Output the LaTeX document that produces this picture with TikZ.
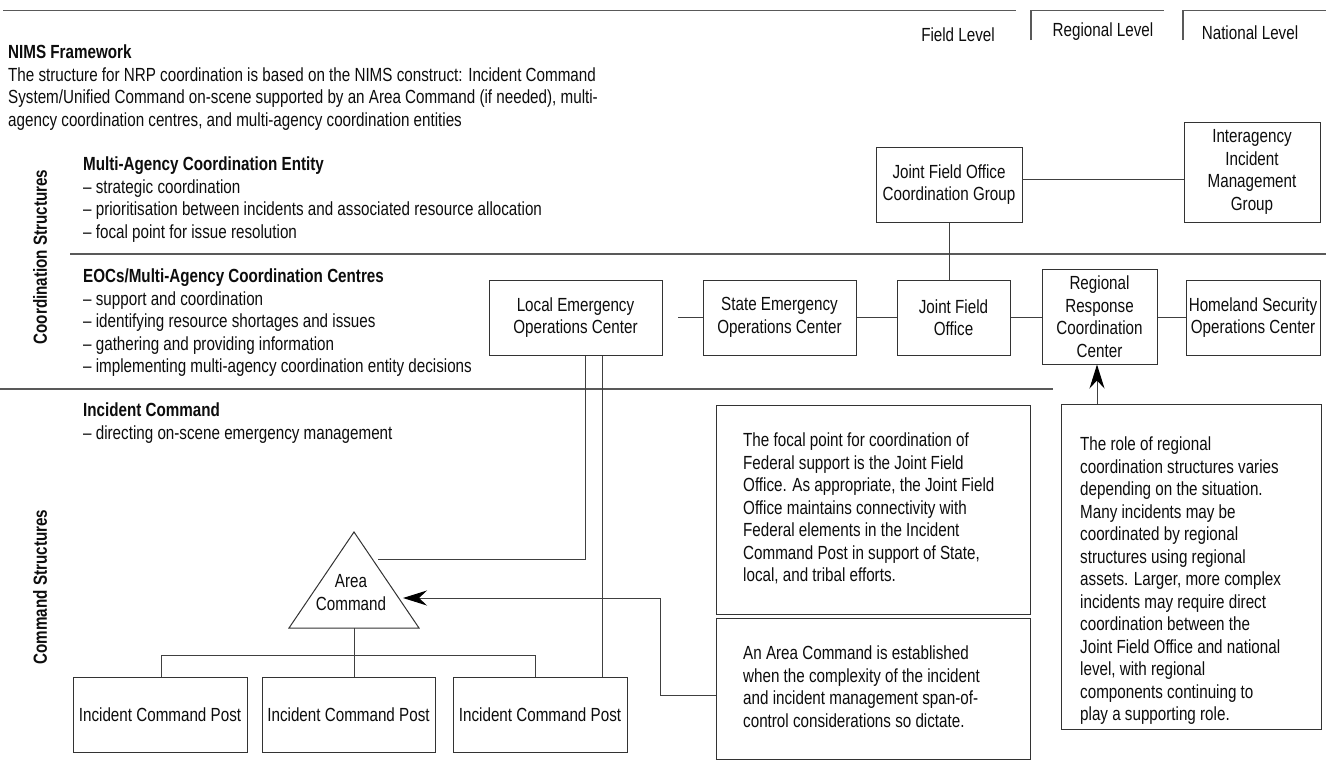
\documentclass[tikz,border=0pt]{standalone}
\usepackage{fontspec}
\setmainfont{Liberation Sans}[FakeStretch=0.80]
\usetikzlibrary{arrows.meta}
\newcommand\fs{\fontsize{19}{22.5}\selectfont}
\begin{document}
\begin{tikzpicture}[x=1pt,y=-1pt,
  box/.style={draw=black!80, line width=1pt, inner sep=0pt, align=center, font=\fs, text=black!95},
  conn/.style={draw=black!75, line width=1pt},
  rule/.style={draw=black!65, line width=1.1pt},
  txt/.style={inner sep=0pt, anchor=north west, align=left, font=\fs, text=black!95},
  lbl/.style={inner sep=0pt, font=\fs, text=black!95},
  side/.style={inner sep=0pt, font=\fs\bfseries, text=black!95, rotate=90},
  arr/.style={-{Stealth[length=24pt,width=15pt,inset=8pt,color=black,fill=black]}}
]
\fill[white] (0,0) rectangle (1326,774);
\useasboundingbox (0,0) rectangle (1326,774);

% header rules and level tabs
\coordinate (h0) at (3,10.7);
\coordinate (h1) at (1016,10.7);
\draw[rule] (h0) -- (h1);
\coordinate (rg0) at (1031,40);
\coordinate (rg1) at (1164,10.7);
\draw[rule] (rg0) |- (rg1);
\coordinate (nt0) at (1183,40);
\coordinate (nt1) at (1326,10.7);
\draw[rule] (nt0) |- (nt1);
\node[lbl] (fl) at (958,35) {Field Level};
\node[lbl] (rl) at (1103,32) {Regional Level};
\node[lbl] (nl) at (1250,33) {National Level};

% left text blocks
\node[txt] (nims) at (8,45) {\textbf{NIMS Framework}\\
The structure for NRP coordination is based on the NIMS construct: Incident Command\\
System/Unified Command on-scene supported by an Area Command (if needed), multi-\\
agency coordination centres, and multi-agency coordination entities};

\node[txt] (mace) at (83,157) {\textbf{Multi-Agency Coordination Entity}\\
– strategic coordination\\
– prioritisation between incidents and associated resource allocation\\
– focal point for issue resolution};

\coordinate (s1a) at (70,254);
\coordinate (s1b) at (1326,254);
\draw[rule] (s1a) -- (s1b);

\node[txt] (eocs) at (83,269) {\textbf{EOCs/Multi-Agency Coordination Centres}\\
– support and coordination\\
– identifying resource shortages and issues\\
– gathering and providing information\\
– implementing multi-agency coordination entity decisions};

\coordinate (s2a) at (0,389);
\coordinate (s2b) at (1053,389);
\draw[rule] (s2a) -- (s2b);

\node[txt] (ic) at (83,403) {\textbf{Incident Command}\\
– directing on-scene emergency management};

\node[side] (cos) at (40,257) {Coordination Structures};
\node[side] (cms) at (40,587) {Command Structures};

% coordination boxes
\node[box, minimum width=173, minimum height=75] (leoc) at (575.5,317.5) {Local Emergency\\Operations Center};
\node[box, minimum width=153, minimum height=75] (seoc) at (779.5,317.5) {State Emergency\\Operations Center};
\node[box, minimum width=113, minimum height=75] (jfo) at (953.5,317.5) {Joint Field\\Office};
\node[box, minimum width=115, minimum height=95] (rrcc) at (1099.5,316.5) {Regional\\Response\\Coordination\\Center};
\node[box, minimum width=134, minimum height=75] (hsoc) at (1253,317.5) {Homeland Security\\Operations Center};
\node[box, minimum width=146, minimum height=75] (jfocg) at (949,184.5) {Joint Field Office\\Coordination Group};
\node[box, minimum width=136, minimum height=100] (iimg) at (1252,172) {Interagency\\Incident\\Management\\Group};

\coordinate (ls) at (678,317.5);
\draw[conn] (ls) -- (seoc.west);
\draw[conn] (seoc) -- (jfo);
\draw[conn] (jfo.east) -- (jfo.east -| rrcc.west);
\draw[conn] (rrcc.east |- hsoc.west) -- (hsoc.west);
\draw[conn] (jfocg.south) -- (jfocg.south |- jfo.north);
\coordinate (ga) at (1022,179);
\draw[conn] (ga) -- (ga -| iimg.west);

% command structures
\coordinate (ta) at (354,532);
\coordinate (tbl) at (289,628);
\coordinate (tbr) at (419,628);
\draw[box] (ta) -- (tbr) -- (tbl) -- cycle;
\node[lbl, align=center] (area) at (351,592.5) {Area\\Command};

\node[box, minimum width=174, minimum height=75] (icp1) at (160,714.5) {Incident Command Post};
\node[box, minimum width=173, minimum height=75] (icp2) at (348.5,714.5) {Incident Command Post};
\node[box, minimum width=174, minimum height=75] (icp3) at (540,714.5) {Incident Command Post};

\coordinate (tb) at (354,628);
\draw[conn] (tb) -- (tb |- icp2.north);
\coordinate (tl) at (161,655);
\coordinate (tr) at (535,655);
\draw[conn] (tl |- icp1.north) -- (tl) -- (tr) -- (tr |- icp3.north);

\coordinate (la) at ([xshift=9.5pt]leoc.south);
\coordinate (lb) at ([xshift=26.5pt]leoc.south);
\coordinate (tg) at (378,559);
\draw[conn] (la) |- (tg);
\draw[conn] (lb) -- (lb |- icp3.north);

% explanatory boxes
\node[box, minimum width=314, minimum height=209] (fbox) at (873,509.5) {};
\node[txt] (ftxt) at (743,433) {The focal point for coordination of\\
Federal support is the Joint Field\\
Office. As appropriate, the Joint Field\\
Office maintains connectivity with\\
Federal elements in the Incident\\
Command Post in support of State,\\
local, and tribal efforts.};

\node[box, minimum width=314, minimum height=141] (abox) at (873,688.5) {};
\node[txt] (atxt) at (743,646) {An Area Command is established\\
when the complexity of the incident\\
and incident management span-of-\\
control considerations so dictate.};

\node[box, minimum width=260, minimum height=325] (rbox) at (1191,566.5) {};
\node[txt] (rtxt) at (1080,437) {The role of regional\\
coordination structures varies\\
depending on the situation.\\
Many incidents may be\\
coordinated by regional\\
structures using regional\\
assets. Larger, more complex\\
incidents may require direct\\
coordination between the\\
Joint Field Office and national\\
level, with regional\\
components continuing to\\
play a supporting role.};

\coordinate (aw) at (716,695);
\coordinate (ac) at (660,598);
\coordinate (atip) at (403,598);
\draw[conn, arr] (aw) -| (ac) -- (atip);

\coordinate (ra) at (1097,404);
\draw[conn, arr] (ra) -- (ra |- rrcc.south);
\end{tikzpicture}
\end{document}
